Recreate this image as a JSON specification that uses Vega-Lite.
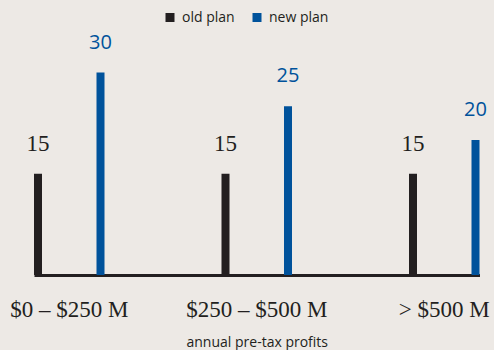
{
  "$schema": "https://vega.github.io/schema/vega-lite/v6.json",
  "width": 445.5,
  "height": 202.5,
  "autosize": {"type": "none"},
  "padding": {"left": 34, "top": 72.5, "right": 14.5, "bottom": 75},
  "background": "#ede9e5",
  "config": {
    "view": {"stroke": null},
    "font": "Open Sans"
  },
  "data": {
    "values": [
      {"profits": "$0 – $250 M", "plan": "old plan", "value": 15},
      {"profits": "$0 – $250 M", "plan": "new plan", "value": 30},
      {"profits": "$250 – $500 M", "plan": "old plan", "value": 15},
      {"profits": "$250 – $500 M", "plan": "new plan", "value": 25},
      {"profits": "> $500 M", "plan": "old plan", "value": 15},
      {"profits": "> $500 M", "plan": "new plan", "value": 20}
    ]
  },
  "encoding": {
    "x": {
      "field": "profits",
      "type": "nominal",
      "sort": ["$0 – $250 M", "$250 – $500 M", "> $500 M"],
      "scale": {"paddingInner": 0.624, "paddingOuter": 0},
      "title": "annual pre-tax profits",
      "axis": {
        "labelAngle": 0,
        "ticks": false,
        "tickSize": 0,
        "domainColor": "#231f20",
        "domainWidth": 3,
        "labelFont": "Liberation Serif",
        "labelFontSize": 23,
        "labelColor": "#231f20",
        "labelBaseline": "alphabetic",
        "labelPadding": 41,
        "titleFont": "Open Sans",
        "titleFontSize": 14,
        "titleFontWeight": "normal",
        "titleColor": "#231f20",
        "titlePadding": 14
      }
    },
    "xOffset": {
      "field": "plan",
      "sort": ["old plan", "new plan"],
      "scale": {"paddingInner": 0.872, "paddingOuter": 0}
    },
    "y": {
      "field": "value",
      "type": "quantitative",
      "scale": {"domain": [0, 30], "nice": false},
      "axis": null
    }
  },
  "layer": [
    {
      "mark": {"type": "bar"},
      "encoding": {
        "color": {
          "field": "plan",
          "type": "nominal",
          "sort": ["old plan", "new plan"],
          "scale": {"domain": ["old plan", "new plan"], "range": ["#231f20", "#00529b"]},
          "legend": {
            "title": null,
            "orient": "none",
            "direction": "horizontal",
            "legendX": 129,
            "legendY": -62,
            "symbolType": "square",
            "symbolSize": 81,
            "symbolStrokeWidth": 0,
            "labelFont": "Open Sans",
            "labelFontSize": 14,
            "labelFontWeight": 500,
            "labelColor": "#231f20",
            "labelOffset": 5,
            "columnPadding": 15
          }
        }
      }
    },
    {
      "transform": [{"filter": "datum.plan === 'old plan'"}],
      "mark": {"type": "text", "font": "Liberation Serif", "fontSize": 23, "baseline": "alphabetic", "dy": -23, "color": "#231f20"},
      "encoding": {"text": {"field": "value", "type": "quantitative"}}
    },
    {
      "transform": [{"filter": "datum.plan === 'new plan'"}],
      "mark": {"type": "text", "font": "Open Sans", "fontSize": 20, "fontWeight": 500, "baseline": "alphabetic", "dy": -24, "color": "#00529b"},
      "encoding": {"text": {"field": "value", "type": "quantitative"}}
    }
  ]
}
